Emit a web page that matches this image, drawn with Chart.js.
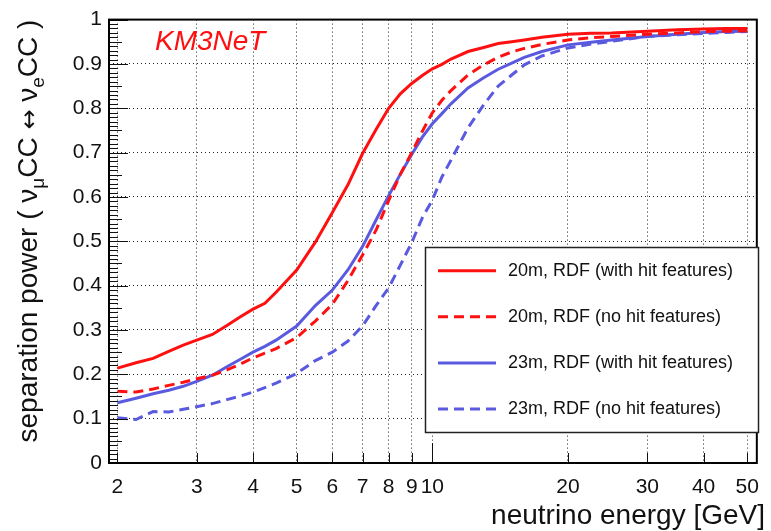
<!DOCTYPE html>
<html>
<head>
<meta charset="utf-8">
<script src="https://cdn.jsdelivr.net/npm/chart.js@4.4.1/dist/chart.umd.min.js"></script>
<style>
  html, body { margin: 0; padding: 0; background: #fff; }
  #wrap { width: 771px; height: 531px; }
</style>
</head>
<body>
<div id="wrap"><canvas id="sep" width="771" height="531"></canvas></div>
<script>
const energy = [2, 2.2, 2.4, 2.6, 2.8, 3, 3.25, 3.5, 3.75, 4, 4.25, 4.5, 5, 5.5, 6, 6.5, 7, 7.5, 8, 8.5,
  9, 9.5, 10, 10.5, 11, 12, 13, 14, 15, 16, 17.5, 20, 22.5, 25, 30, 35, 40, 45, 50];

const sep20Hit = [0.214, 0.226, 0.236, 0.252, 0.266, 0.277, 0.290, 0.310, 0.330, 0.347, 0.360, 0.385, 0.435,
  0.498, 0.565, 0.628, 0.698, 0.752, 0.800, 0.833, 0.856, 0.874, 0.889, 0.899, 0.911, 0.928, 0.937, 0.946,
  0.950, 0.954, 0.960, 0.967, 0.969, 0.970, 0.974, 0.977, 0.979, 0.980, 0.980];
const sep20NoHit = [0.162, 0.160, 0.167, 0.175, 0.182, 0.190, 0.198, 0.210, 0.223, 0.237, 0.248, 0.258, 0.283,
  0.320, 0.358, 0.412, 0.469, 0.525, 0.592, 0.652, 0.700, 0.748, 0.790, 0.818, 0.840, 0.875, 0.898, 0.915,
  0.927, 0.935, 0.944, 0.954, 0.959, 0.962, 0.967, 0.970, 0.973, 0.974, 0.975];
const sep23Hit = [0.136, 0.146, 0.156, 0.164, 0.173, 0.184, 0.198, 0.217, 0.234, 0.250, 0.263, 0.277, 0.309,
  0.355, 0.390, 0.436, 0.488, 0.548, 0.603, 0.652, 0.696, 0.735, 0.765, 0.788, 0.810, 0.846, 0.869, 0.888,
  0.902, 0.915, 0.928, 0.943, 0.949, 0.954, 0.962, 0.967, 0.971, 0.973, 0.974];
const sep23NoHit = [0.102, 0.098, 0.116, 0.115, 0.121, 0.127, 0.134, 0.143, 0.151, 0.160, 0.170, 0.180, 0.202,
  0.231, 0.250, 0.275, 0.309, 0.355, 0.395, 0.447, 0.497, 0.553, 0.593, 0.645, 0.683, 0.756, 0.808, 0.850,
  0.875, 0.898, 0.918, 0.936, 0.945, 0.951, 0.962, 0.966, 0.969, 0.971, 0.973];

const seriesLabels = [
  "20m, RDF (with hit features)",
  "20m, RDF (no hit features)",
  "23m, RDF (with hit features)",
  "23m, RDF (no hit features)"
];
const xTicks = [2, 3, 4, 5, 6, 7, 8, 9, 10, 20, 30, 40, 50];
const yTicks = [0, 0.1, 0.2, 0.3, 0.4, 0.5, 0.6, 0.7, 0.8, 0.9, 1];

const RED = "#ff1010";
const BLUE = "#5a5ae0";
const FONT = "'Liberation Sans', Arial, Helvetica, sans-serif";
const DASH = [10, 6];

function pts(vals) {
  return energy.map((e, i) => ({ x: e, y: vals[i] }));
}

function line(label, vals, color, dashed) {
  return {
    label: label,
    data: pts(vals),
    borderColor: color,
    backgroundColor: color,
    borderWidth: 3,
    borderDash: dashed ? DASH : [],
    pointRadius: 0,
    tension: 0,
    fill: false
  };
}

// frame, inward ticks, legend box, titles
const decor = {
  id: "decor",
  afterDatasetsDraw(chart) {
    const ctx = chart.ctx;
    const a = chart.chartArea;
    const xs = chart.scales.x, ys = chart.scales.y;
    ctx.save();

    // left axis ticks
    ctx.strokeStyle = "#111";
    ctx.lineWidth = 1;
    for (let i = 0; i <= 100; i++) {
      const py = Math.round(ys.getPixelForValue(i / 100)) + 0.5;
      const len = i % 10 === 0 ? 19 : (i % 5 === 0 ? 13 : 9);
      ctx.beginPath();
      ctx.moveTo(a.left, py);
      ctx.lineTo(a.left + len, py);
      ctx.stroke();
    }
    // bottom axis ticks
    xTicks.forEach(v => {
      const px = Math.round(xs.getPixelForValue(v)) + 0.5;
      const len = v === 10 ? 20 : 10;
      ctx.beginPath();
      ctx.moveTo(px, a.bottom);
      ctx.lineTo(px, a.bottom - len);
      ctx.stroke();
    });

    // frame
    ctx.lineWidth = 2;
    ctx.strokeStyle = "#000";
    ctx.strokeRect(a.left, a.top, a.right - a.left, a.bottom - a.top);

    // legend
    const lx = 425.5, ly = 247.5, lw = 333, lh = 185;
    ctx.fillStyle = "#fff";
    ctx.fillRect(lx, ly, lw, lh);
    ctx.lineWidth = 1.5;
    ctx.strokeStyle = "#222";
    ctx.strokeRect(lx, ly, lw, lh);
    ctx.font = "18px " + FONT;
    ctx.textBaseline = "middle";
    ctx.textAlign = "left";
    chart.data.datasets.forEach((ds, i) => {
      const yc = 270.7 + i * 46.1;
      ctx.beginPath();
      ctx.setLineDash(ds.borderDash);
      ctx.strokeStyle = ds.borderColor;
      ctx.lineWidth = 3;
      ctx.moveTo(438, yc);
      ctx.lineTo(496, yc);
      ctx.stroke();
      ctx.setLineDash([]);
      ctx.fillStyle = "#111";
      ctx.fillText(ds.label, 508, yc);
    });

    // experiment tag
    ctx.fillStyle = RED;
    ctx.font = "italic 28px " + FONT;
    ctx.textBaseline = "alphabetic";
    ctx.fillText("KM3NeT", 155, 50);

    // x title
    ctx.fillStyle = "#111";
    ctx.font = "28px " + FONT;
    ctx.textAlign = "right";
    ctx.fillText("neutrino energy [GeV]", 765, 524);

    // y title with subscripts, rotated
    const big = 28, small = 19;
    const arrowFont = "'DejaVu Sans', sans-serif";
    const parts = [
      ["separation power ( \u03bd", big, 0, FONT],
      ["\u03bc", small, 7, FONT],
      ["CC ", big, 0, FONT],
      ["\u2194", 24, 0, arrowFont],
      [" \u03bd", big, 0, FONT],
      ["e", small, 7, FONT],
      ["CC )", big, 0, FONT]
    ];
    ctx.textAlign = "left";
    let total = 0;
    parts.forEach(p => {
      ctx.font = p[1] + "px " + p[3];
      p.push(ctx.measureText(p[0]).width);
      total += p[4];
    });
    ctx.translate(37, a.top + total);
    ctx.rotate(-Math.PI / 2);
    let x = 0;
    parts.forEach(p => {
      ctx.font = p[1] + "px " + p[3];
      ctx.fillText(p[0], x, p[2]);
      x += p[4];
    });
    ctx.restore();
  }
};

new Chart(document.getElementById("sep"), {
  type: "line",
  data: {
    datasets: [
      line(seriesLabels[0], sep20Hit, RED, false),
      line(seriesLabels[1], sep20NoHit, RED, true),
      line(seriesLabels[2], sep23Hit, BLUE, false),
      line(seriesLabels[3], sep23NoHit, BLUE, true)
    ]
  },
  options: {
    responsive: false,
    devicePixelRatio: 1,
    animation: false,
    layout: { padding: { top: 14, right: 3, left: 0, bottom: 0 } },
    plugins: { legend: { display: false }, tooltip: { enabled: false } },
    scales: {
      x: {
        type: "logarithmic",
        min: 1.916,
        max: 52.5,
        afterFit(s) { s.height = 68; },
        afterBuildTicks(s) { s.ticks = xTicks.map(v => ({ value: v })); },
        grid: { color: "#222", lineWidth: 1, drawTicks: false },
        border: { display: false, dash: [1, 3] },
        ticks: {
          autoSkip: false,
          maxRotation: 0,
          padding: 12,
          color: "#111",
          font: { family: FONT, size: 21 },
          callback: v => String(v)
        }
      },
      y: {
        min: 0,
        max: 1,
        afterFit(s) { s.width = 109; },
        afterBuildTicks(s) { s.ticks = yTicks.map(v => ({ value: v })); },
        grid: { color: "#222", lineWidth: 1, drawTicks: false },
        border: { display: false, dash: [1, 3] },
        ticks: {
          padding: 7,
          color: "#111",
          font: { family: FONT, size: 21 },
          callback: v => String(Number(v.toFixed(1)))
        }
      }
    }
  },
  plugins: [decor]
});
</script>
</body>
</html>
